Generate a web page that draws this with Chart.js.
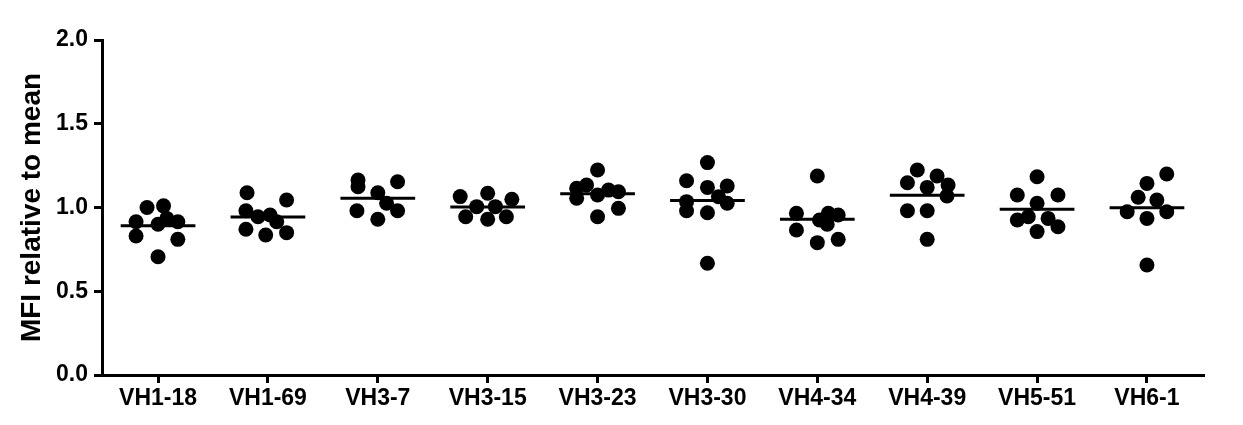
<!DOCTYPE html>
<html>
<head>
<meta charset="utf-8">
<script src="https://cdn.jsdelivr.net/npm/chart.js@4.4.1/dist/chart.umd.min.js"></script>
<style>
  html, body { margin: 0; padding: 0; background: #fff; }
  #wrap { width: 1243px; height: 425px; }
</style>
</head>
<body>
<div id="wrap"><canvas id="dotPlot"></canvas></div>
<script>
const categories = ["VH1-18", "VH1-69", "VH3-7", "VH3-15", "VH3-23", "VH3-30", "VH4-34", "VH4-39", "VH5-51", "VH6-1"];

// MFI relative to mean, one list per VH gene
const vh1_18 = [1.00, 1.01, 0.915, 0.83, 0.90, 0.935, 0.915, 0.81, 0.706];
const vh1_69 = [1.088, 1.045, 0.981, 0.945, 0.955, 0.87, 0.836, 0.85, 0.915];
const vh3_7  = [1.164, 1.124, 1.154, 1.088, 0.981, 0.981, 0.93, 1.025];
const vh3_15 = [1.065, 1.085, 1.049, 0.945, 0.93, 0.945, 1.005, 1.005];
const vh3_23 = [1.224, 1.115, 1.134, 1.055, 1.075, 1.104, 1.094, 0.995, 0.945];
const vh3_30 = [1.268, 1.16, 1.12, 1.128, 1.064, 1.035, 1.025, 0.981, 0.969, 0.667];
const vh4_34 = [1.188, 0.965, 0.866, 0.965, 0.955, 0.925, 0.90, 0.79, 0.81];
const vh4_39 = [1.224, 1.148, 1.188, 1.12, 1.134, 1.069, 0.981, 0.981, 0.81];
const vh5_51 = [1.184, 1.075, 1.075, 1.025, 0.925, 0.945, 0.935, 0.885, 0.856];
const vh6_1  = [1.20, 1.144, 1.061, 1.045, 0.975, 0.975, 0.935, 0.657];
const values = [vh1_18, vh1_69, vh3_7, vh3_15, vh3_23, vh3_30, vh4_34, vh4_39, vh5_51, vh6_1];

// horizontal scatter of each dot within its column (category units)
const jitter = [
  [-0.10, 0.05, -0.20, -0.20, 0, 0.08, 0.18, 0.18, 0],
  [-0.19, 0.17, -0.20, -0.09, 0.02, -0.20, -0.02, 0.17, 0.08],
  [-0.18, -0.18, 0.18, 0, -0.19, 0.18, 0, 0.08],
  [-0.25, 0, 0.22, -0.20, 0, 0.17, -0.10, 0.07],
  [0, -0.19, -0.10, -0.19, 0, 0.10, 0.19, 0.19, 0],
  [0, -0.19, 0, 0.18, 0.10, -0.19, 0.18, -0.19, 0, 0],
  [0, -0.19, -0.19, 0.10, 0.19, 0.02, 0.09, 0, 0.19],
  [-0.09, -0.18, 0.09, 0, 0.19, 0.18, -0.18, 0, 0],
  [0, -0.18, 0.19, 0, -0.18, -0.08, 0.10, 0.19, 0],
  [0.18, 0, -0.08, 0.09, -0.18, 0.18, 0, 0]
];

const yTicks = [0, 0.5, 1.0, 1.5, 2.0];

const dots = [];
const meanLines = [];
values.forEach((arr, i) => {
  arr.forEach((v, j) => dots.push({ x: i + jitter[i][j], y: v }));
  const m = arr.reduce((a, b) => a + b, 0) / arr.length;
  meanLines.push({ x: i - 0.34, y: m }, { x: i + 0.34, y: m }, { x: i + 0.5, y: null });
});

const font = "'Liberation Sans', Arial, sans-serif";

new Chart(document.getElementById('dotPlot'), {
  type: 'scatter',
  data: {
    datasets: [
      {
        label: 'MFI',
        data: dots,
        backgroundColor: '#000',
        borderWidth: 0,
        pointRadius: 7.5,
        pointHoverRadius: 7.5
      },
      {
        label: 'Mean',
        data: meanLines,
        showLine: true,
        spanGaps: false,
        borderColor: '#000',
        borderWidth: 3,
        pointRadius: 0,
        pointHoverRadius: 0
      }
    ]
  },
  options: {
    responsive: true,
    maintainAspectRatio: false,
    animation: false,
    layout: { padding: { top: 40, right: 40, bottom: 0, left: 6 } },
    scales: {
      x: {
        type: 'linear',
        min: -0.51,
        max: 9.51,
        afterBuildTicks: (s) => { s.ticks = categories.map((c, i) => ({ value: i })); },
        afterFit: (s) => { s.height = 50; },
        grid: { display: true, drawOnChartArea: false, drawTicks: true, tickLength: 8, color: '#000', lineWidth: 3 },
        border: { display: true, color: '#000', width: 3 },
        ticks: {
          color: '#000',
          padding: 2,
          maxRotation: 0,
          autoSkip: false,
          font: { family: font, size: 23, weight: 'bold' },
          callback: (v) => categories[Math.round(v)]
        }
      },
      y: {
        min: 0,
        max: 2,
        afterBuildTicks: (s) => { s.ticks = yTicks.map(v => ({ value: v })); },
        afterFit: (s) => { s.width = 96; },
        grid: { display: true, drawOnChartArea: false, drawTicks: true, tickLength: 8, color: '#000', lineWidth: 3 },
        border: { display: true, color: '#000', width: 3 },
        title: {
          display: true,
          text: 'MFI relative to mean',
          color: '#000',
          padding: { top: 9, bottom: 0 },
          font: { family: font, size: 28, weight: 'bold' }
        },
        ticks: {
          color: '#000',
          padding: 6,
          font: { family: font, size: 23, weight: 'bold' },
          callback: (v) => Number(v).toFixed(1)
        }
      }
    },
    plugins: {
      legend: { display: false },
      tooltip: { enabled: false }
    }
  }
});
</script>
</body>
</html>
